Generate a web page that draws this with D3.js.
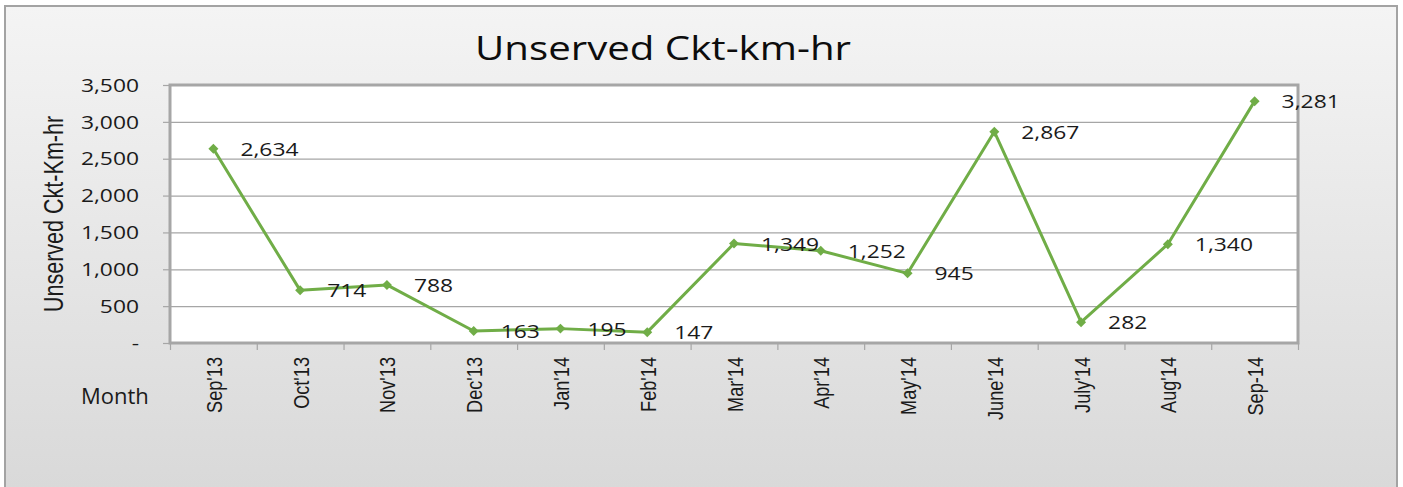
<!DOCTYPE html>
<html>
<head>
<meta charset="utf-8">
<script src="https://cdn.jsdelivr.net/npm/d3@7"></script>
<style>
  html, body { margin: 0; padding: 0; background: #fff; }
  svg { display: block; }
</style>
</head>
<body>
<svg id="chart" width="1403" height="487"></svg>
<script>
// chart data
const months = ["Sep'13", "Oct'13", "Nov'13", "Dec'13", "Jan'14", "Feb'14",
                "Mar'14", "Apr'14", "May'14", "June'14", "July'14", "Aug'14", "Sep-14"];
const unserved = [2634, 714, 788, 163, 195, 147, 1349, 1252, 945, 2867, 282, 1340, 3281];
const yTicks = [0, 500, 1000, 1500, 2000, 2500, 3000, 3500];

const W = 1403, H = 487;
const plot = { left: 170, top: 85, right: 1298, bottom: 343 };
const green = "#70ad47";
const gridGray = "#a6a6a6";

const svg = d3.select("#chart");

// background gradient of the chart frame
const defs = svg.append("defs");
const grad = defs.append("linearGradient")
  .attr("id", "bg").attr("x1", 0).attr("y1", 0).attr("x2", 0).attr("y2", 1);
grad.append("stop").attr("offset", "0%").attr("stop-color", "#f4f4f4");
grad.append("stop").attr("offset", "100%").attr("stop-color", "#d8d8d8");

svg.append("rect")
  .attr("x", 5).attr("y", 6).attr("width", 1392).attr("height", 500)
  .attr("fill", "url(#bg)")
  .attr("stroke", "#a3a3a3").attr("stroke-width", 2);

// scales
const x = d3.scaleBand().domain(months).range([plot.left, plot.right]);
const xEdge = d3.scaleLinear().domain([0, months.length]).range([plot.left, plot.right]);
const y = d3.scaleLinear().domain([0, 3500]).range([plot.bottom, plot.top]);

// plot area
svg.append("rect")
  .attr("x", plot.left).attr("y", plot.top)
  .attr("width", plot.right - plot.left).attr("height", plot.bottom - plot.top)
  .attr("fill", "#fff");

// gridlines
const grid = svg.append("g")
  .attr("transform", "translate(" + plot.left + ",0)")
  .call(d3.axisLeft(y).tickValues(yTicks).tickSize(-(plot.right - plot.left)).tickFormat(""));
grid.select(".domain").remove();
grid.selectAll("line").attr("stroke", gridGray).attr("stroke-width", 1.2);

// plot border
svg.append("rect")
  .attr("x", plot.left).attr("y", plot.top)
  .attr("width", plot.right - plot.left).attr("height", plot.bottom - plot.top)
  .attr("fill", "none").attr("stroke", gridGray).attr("stroke-width", 3);

// y axis
const fmt = d3.format(",");
const yAxis = svg.append("g")
  .attr("transform", "translate(" + plot.left + ",0)")
  .call(d3.axisLeft(y).tickValues(yTicks).tickSize(7)
          .tickFormat(d => d === 0 ? "-" : fmt(d)));
yAxis.select(".domain").remove();
yAxis.selectAll("line").attr("stroke", gridGray).attr("stroke-width", 1.2);
yAxis.selectAll("text")
  .attr("x", 0).attr("dy", "0.36em")
  .attr("transform", "translate(-31,0) scale(1.32,1)")
  .attr("fill", "#1a1a1a")
  .style("font-family", "'Open Sans', sans-serif")
  .style("font-size", "17.3px");

// x axis ticks sit on the category edges
const xAxis = svg.append("g")
  .attr("transform", "translate(0," + plot.bottom + ")")
  .call(d3.axisBottom(xEdge).tickValues(d3.range(months.length + 1)).tickSize(7).tickFormat(""));
xAxis.select(".domain").remove();
xAxis.selectAll("line").attr("stroke", gridGray).attr("stroke-width", 1.2);

// category labels, rotated
svg.append("g").selectAll("text")
  .data(months)
  .join("text")
  .attr("transform", d => "translate(" + (x(d) + x.bandwidth() / 2 + 8.5) + ",357) rotate(-90) scale(0.81,1)")
  .attr("text-anchor", "end")
  .attr("fill", "#1a1a1a")
  .style("font-family", "'Liberation Sans', Arial, sans-serif")
  .style("font-size", "22.4px")
  .text(d => d);

// line + markers
const line = d3.line()
  .x((d, i) => x(months[i]) + x.bandwidth() / 2)
  .y(d => y(d));

svg.append("path")
  .datum(unserved)
  .attr("d", line)
  .attr("fill", "none")
  .attr("stroke", green)
  .attr("stroke-width", 3)
  .attr("stroke-linejoin", "round");

const sym = d3.symbol().type(d3.symbolSquare).size(50);
svg.append("g").selectAll("path")
  .data(unserved)
  .join("path")
  .attr("d", sym)
  .attr("transform", (d, i) => "translate(" + (x(months[i]) + x.bandwidth() / 2) + "," + y(d) +
                               ") rotate(45)")
  .attr("fill", green);

// data labels
svg.append("g").selectAll("text")
  .data(unserved)
  .join("text")
  .attr("transform", (d, i) => "translate(" + (x(months[i]) + x.bandwidth() / 2 + 27) + "," + (y(d) + 7) +
                               ") scale(1.32,1)")
  .attr("fill", "#1a1a1a")
  .style("font-family", "'Open Sans', sans-serif")
  .style("font-size", "17.3px")
  .text(d => fmt(d));

// title
svg.append("text")
  .attr("transform", "translate(663,60) scale(1.23,1)")
  .attr("text-anchor", "middle")
  .attr("fill", "#0d0d0d")
  .style("font-family", "'Open Sans', sans-serif")
  .style("font-size", "32.7px")
  .text("Unserved Ckt-km-hr");

// y axis title
svg.append("text")
  .attr("transform", "translate(63,214) rotate(-90) scale(0.77,1)")
  .attr("text-anchor", "middle")
  .attr("fill", "#1a1a1a")
  .style("font-family", "'Liberation Sans', Arial, sans-serif")
  .style("font-size", "28px")
  .text("Unserved Ckt-Km-hr");

// x axis title
svg.append("text")
  .attr("x", 81).attr("y", 404)
  .attr("fill", "#1a1a1a")
  .style("font-family", "'Open Sans', sans-serif")
  .style("font-size", "22px")
  .text("Month");
</script>
</body>
</html>
